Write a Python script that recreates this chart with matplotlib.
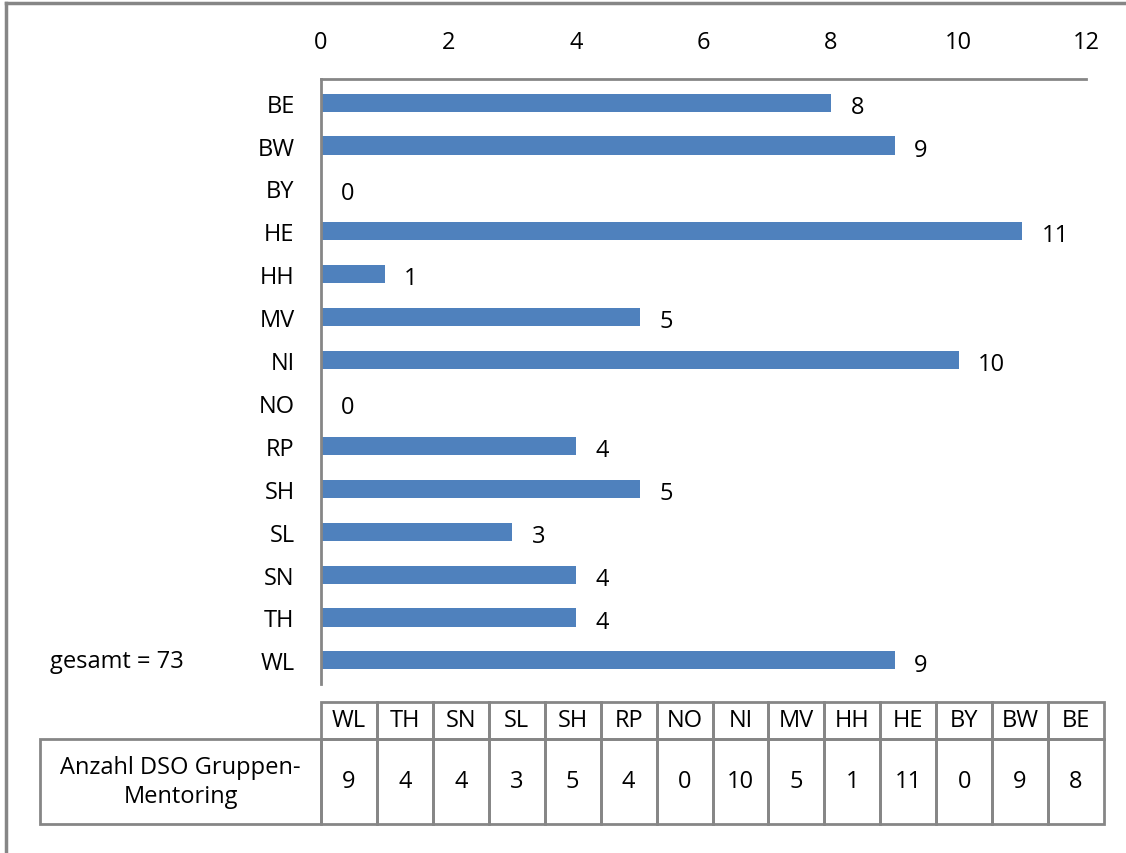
import matplotlib.pyplot as plt
from matplotlib.patches import Rectangle
from matplotlib.lines import Line2D

plt.rcParams['font.family'] = ['Open Sans', 'DejaVu Sans']

states = ['BE', 'BW', 'BY', 'HE', 'HH', 'MV', 'NI', 'NO', 'RP', 'SH', 'SL', 'SN', 'TH', 'WL']
counts = [8, 9, 0, 11, 1, 5, 10, 0, 4, 5, 3, 4, 4, 9]
row_label = 'Anzahl DSO Gruppen-\nMentoring'
total_text = 'gesamt = 73'

W, H = 1126, 854
fig = plt.figure(figsize=(W / 100, H / 100), dpi=100)

def fx(px):
    return px / W

def fy(py):
    return 1 - py / H

grey = '#868686'
bar_col = '#4F81BD'
fs = 17

# axes area: x 321..1086, y 80..685 (pixels)
ax = fig.add_axes([fx(321), fy(685), fx(1086) - fx(321), fy(80) - fy(685)])
pos = list(range(len(states)))
ax.barh(pos, counts, height=0.42, color=bar_col)
ax.set_xlim(0, 12)
ax.set_ylim(len(states) - 0.5 + 0.05, -0.5 - 0.05)
ax.set_xticks(range(0, 13, 2))
ax.xaxis.tick_top()
ax.tick_params(axis='x', length=0, pad=18, labelsize=fs)
ax.tick_params(axis='y', length=0, pad=19, labelsize=fs)
ax.set_yticks(pos)
ax.set_yticklabels(states)
for s in ['right', 'bottom']:
    ax.spines[s].set_visible(False)
for s in ['left', 'top']:
    ax.spines[s].set_color(grey)
    ax.spines[s].set_linewidth(2)
for i, v in enumerate(counts):
    ax.annotate(str(v), (v, i), xytext=(14, -3), textcoords='offset points',
                ha='left', va='center', fontsize=fs)

fig.text(fx(50), fy(662), total_text, fontsize=fs, va='center', ha='left')

# data table below the chart
tab_states = states[::-1]
tab_counts = counts[::-1]
x0, x1 = 321, 1104
cw = (x1 - x0) / len(tab_states)
y_head, y_mid, y_bot = 703, 740, 825
lab_x0 = 40

def box(xa, ya, xb, yb):
    fig.add_artist(Rectangle((fx(xa), fy(yb)), fx(xb) - fx(xa), fy(ya) - fy(yb),
                             transform=fig.transFigure, fill=False,
                             edgecolor=grey, linewidth=2))

box(lab_x0, y_mid, x0, y_bot)
fig.text(fx((lab_x0 + x0) / 2), fy((y_mid + y_bot) / 2), row_label,
         ha='center', va='center', fontsize=fs, linespacing=1.25)
for i, (s, v) in enumerate(zip(tab_states, tab_counts)):
    xa = x0 + i * cw
    box(xa, y_head, xa + cw, y_mid)
    box(xa, y_mid, xa + cw, y_bot)
    fig.text(fx(xa + cw / 2), fy((y_head + y_mid) / 2), s, ha='center', va='center', fontsize=fs)
    fig.text(fx(xa + cw / 2), fy((y_mid + y_bot) / 2), str(v), ha='center', va='center', fontsize=fs)

# outer frame (left and top edges)
fig.add_artist(Line2D([fx(6), fx(6)], [fy(4), 0], transform=fig.transFigure, color=grey, lw=2.5))
fig.add_artist(Line2D([fx(6), 1], [fy(4), fy(4)], transform=fig.transFigure, color=grey, lw=2.5))

fig.savefig('out.png', dpi=100)
